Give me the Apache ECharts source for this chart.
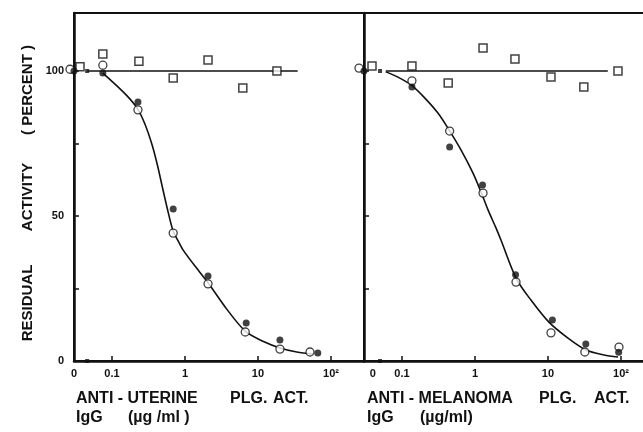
<!DOCTYPE html>
<html>
<head>
<meta charset="utf-8">
<script src="https://cdn.jsdelivr.net/npm/echarts@6/dist/echarts.min.js"></script>
<style>
html,body{margin:0;padding:0;background:#fff}
#chart{width:643px;height:432px}
</style>
</head>
<body>
<div id="chart"></div>
<script>
// 数据 (x: µg/ml, 0 = 无抗体; y: residual activity %)
// 左: anti-uterine
var leftCtrlX   = [0, 0.075, 0.234, 0.69, 2.07, 6.2, 18.2];
var leftCtrlY   = [101.5, 105.9, 103.4, 97.6, 103.8, 94.1, 100];
var leftFillX   = [0, 0.075, 0.227, 0.69, 2.07, 6.9, 20, 66];
var leftFillY   = [100, 99.3, 89.3, 52.4, 29.3, 13.1, 7.2, 2.8];
var leftOpenX   = [0, 0.075, 0.227, 0.69, 2.07, 6.7, 20, 51.6];
var leftOpenY   = [100.6, 102, 86.6, 44.1, 26.6, 10, 4.1, 3.1];
var leftCurveX  = [0.075, 0.11, 0.16, 0.22, 0.28, 0.355, 0.42, 0.49, 0.58, 0.685, 0.81, 0.94, 1.3, 2.07, 3.76, 6.7, 11.7, 20, 34, 57];
var leftCurveY  = [99.3, 95.5, 91.5, 87.3, 82, 74.5, 67.5, 60, 52, 45, 41.3, 38.3, 33.5, 27, 17.8, 10.3, 6.8, 4.5, 3.1, 2.4];
var leftCtrlLineX = [0.046, 35];
var leftCtrlLineY = [100, 100];

// 右: anti-melanoma
var rightCtrlX  = [0, 0.137, 0.43, 1.29, 3.53, 11, 31, 91];
var rightCtrlY  = [101.7, 101.7, 95.9, 107.9, 104.1, 97.9, 94.5, 100];
var rightFillX  = [0, 0.137, 0.45, 1.27, 3.6, 11.5, 33, 93];
var rightFillY  = [100, 94.5, 73.8, 60.7, 29.7, 14.1, 5.9, 3];
var rightOpenX  = [0, 0.137, 0.45, 1.29, 3.65, 11, 32, 94];
var rightOpenY  = [101, 96.6, 79.3, 57.9, 27.2, 9.7, 3.1, 4.8];
var rightCurveX = [0.06, 0.088, 0.133, 0.2, 0.311, 0.441, 0.643, 0.94, 1.21, 1.51, 1.94, 2.27, 3.65, 5.85, 10.3, 18.8, 33.2, 58.5, 91];
var rightCurveY = [99.7, 97.9, 95.2, 91.0, 85.5, 79.7, 72.8, 64.8, 58.3, 52.1, 45.9, 41.7, 28.6, 21.0, 13.4, 7.9, 3.8, 2.1, 1.4];
var rightCtrlLineX = [0.06, 66];
var rightCtrlLineY = [100, 100];

var tickVals = [-1, 0, 1, 2];      // 0.1, 1, 10, 10^2
var ZERO_U = -1.52;                 // "0" 在对数轴上的位置
var DECADE = 73;                    // 每个数量级的像素
var INK = '#111';
var FONT = 'Liberation Sans, Arial, sans-serif';

function toU(x) { return x === 0 ? ZERO_U : Math.log10(x); }
function pairs(xs, ys, zeroOffset) {
    return xs.map(function (x, i) {
        var d = { value: [toU(x), ys[i]] };
        if (x === 0 && zeroOffset) d.symbolOffset = [zeroOffset, 0];
        return d;
    });
}

var panels = [
    { left: 74, width: 290, ctrlX: leftCtrlX, ctrlY: leftCtrlY, fillX: leftFillX, fillY: leftFillY,
      openX: leftOpenX, openY: leftOpenY, curveX: leftCurveX, curveY: leftCurveY,
      lineX: leftCtrlLineX, lineY: leftCtrlLineY, openOff: -4, sqOff: 6, zeroLabel: ZERO_U, brk: -1.34 },
    { left: 364, width: 286, ctrlX: rightCtrlX, ctrlY: rightCtrlY, fillX: rightFillX, fillY: rightFillY,
      openX: rightOpenX, openY: rightOpenY, curveX: rightCurveX, curveY: rightCurveY,
      lineX: rightCtrlLineX, lineY: rightCtrlLineY, openOff: -5, sqOff: 8, zeroLabel: -1.40, brk: -1.30 }
];

var grids = [], xAxes = [], yAxes = [], series = [];
panels.forEach(function (p, i) {
    grids.push({ left: p.left, top: 13, width: p.width, height: 348, show: true,
        outerBoundsMode: 'none', containLabel: false,
        borderColor: INK, borderWidth: 2, backgroundColor: 'transparent' });
    xAxes.push({
        type: 'value', gridIndex: i, min: ZERO_U, max: ZERO_U + p.width / DECADE,
        axisLine: { show: true, onZero: false, lineStyle: { color: INK, width: 2.5 } },
        axisTick: { show: true, inside: true, length: 5, customValues: tickVals, lineStyle: { color: INK, width: 1.5 } },
        axisLabel: {
            customValues: [p.zeroLabel].concat(tickVals), margin: 7,
            color: INK, fontWeight: 'bold', fontSize: 11, fontFamily: FONT,
            formatter: function (v) {
                if (v < -1.2) return '0';
                return ['0.1', '1', '10', '10²'][Math.round(v) + 1];
            }
        },
        splitLine: { show: false }
    });
    yAxes.push({
        type: 'value', gridIndex: i, min: 0, max: 120,
        axisLine: { show: true, onZero: false, lineStyle: { color: INK, width: 2.5 } },
        axisTick: { show: true, inside: true, length: 5, customValues: [25, 50, 75, 100], lineStyle: { color: INK, width: 1.5 } },
        axisLabel: { show: i === 0, customValues: [0, 50, 100], margin: 10, color: INK,
            fontWeight: 'bold', fontSize: 11, fontFamily: FONT },
        splitLine: { show: false }
    });
    // 对照水平线
    series.push({ type: 'line', xAxisIndex: i, yAxisIndex: i, data: pairs(p.lineX, p.lineY),
        symbol: 'none', lineStyle: { color: INK, width: 1.5 }, z: 2 });
    // 拟合曲线
    series.push({ type: 'line', xAxisIndex: i, yAxisIndex: i, data: pairs(p.curveX, p.curveY),
        smooth: 0.3, symbol: 'none', lineStyle: { color: INK, width: 1.6 }, z: 2 });
    // 断轴标记
    series.push({ type: 'scatter', xAxisIndex: i, yAxisIndex: i, data: [[p.brk, 100], [p.brk, 0]],
        symbol: 'rect', symbolSize: [4, 4], itemStyle: { color: INK }, z: 3 });
    // 对照 (□)
    series.push({ type: 'scatter', xAxisIndex: i, yAxisIndex: i, data: pairs(p.ctrlX, p.ctrlY, p.sqOff),
        symbol: 'rect', symbolSize: 8, itemStyle: { color: '#fff', borderColor: INK, borderWidth: 1.5 }, z: 5 });
    // ○
    series.push({ type: 'scatter', xAxisIndex: i, yAxisIndex: i, data: pairs(p.openX, p.openY, p.openOff),
        symbol: 'circle', symbolSize: 8, itemStyle: { color: '#fff', borderColor: INK, borderWidth: 1.3 }, z: 5 });
    // ●
    series.push({ type: 'scatter', xAxisIndex: i, yAxisIndex: i, data: pairs(p.fillX, p.fillY),
        symbol: 'circle', symbolSize: 7, itemStyle: { color: INK }, z: 6 });
});

function txt(s, x, y, size, rot) {
    return { type: 'text', x: x, y: y, rotation: rot || 0, z: 10,
        style: { text: s, fill: INK, font: 'bold ' + size + 'px ' + FONT,
            align: rot ? 'center' : 'left', verticalAlign: 'middle' } };
}

var chart = echarts.init(document.getElementById('chart'));
chart.setOption({
    animation: false,
    backgroundColor: '#fff',
    grid: grids,
    xAxis: xAxes,
    yAxis: yAxes,
    series: series,
    graphic: [
        txt('RESIDUAL', 28, 303, 15, Math.PI / 2),
        txt('ACTIVITY', 28, 197, 15, Math.PI / 2),
        txt('( PERCENT )', 28, 90, 15, Math.PI / 2),
        txt('ANTI - UTERINE', 76, 399, 16),
        txt('PLG.', 230, 399, 16),
        txt('ACT.', 273, 399, 16),
        txt('IgG', 76, 418, 16),
        txt('(µg /ml )', 128, 418, 16),
        txt('ANTI - MELANOMA', 367, 399, 16),
        txt('PLG.', 539, 399, 16),
        txt('ACT.', 594, 399, 16),
        txt('IgG', 367, 418, 16),
        txt('(µg/ml)', 420, 418, 16)
    ]
});
</script>
</body>
</html>
